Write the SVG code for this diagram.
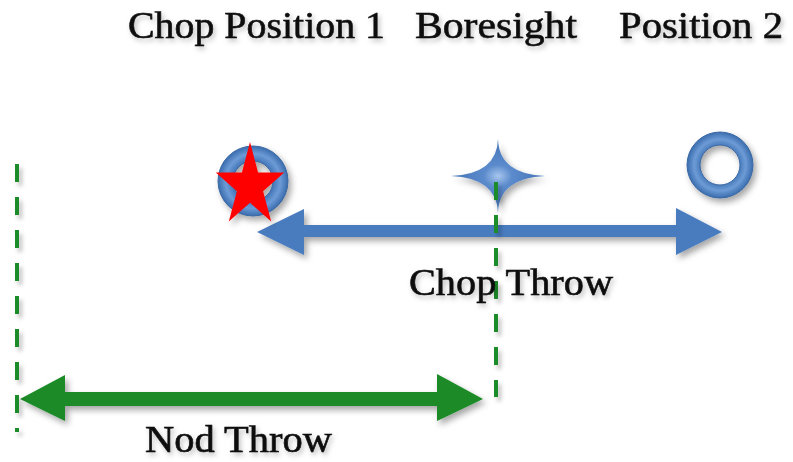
<svg xmlns="http://www.w3.org/2000/svg" width="793" height="462" viewBox="0 0 793 462">
  <defs>
    <filter id="sh" x="-30%" y="-30%" width="160%" height="160%">
      <feDropShadow dx="3" dy="4" stdDeviation="3" flood-color="#000" flood-opacity="0.35"/>
    </filter>
    <filter id="lsh" filterUnits="userSpaceOnUse" x="0" y="0" width="793" height="462">
      <feDropShadow dx="3" dy="4" stdDeviation="2" flood-color="#000" flood-opacity="0.25"/>
    </filter>
    <filter id="tsh" x="-10%" y="-30%" width="120%" height="160%">
      <feDropShadow dx="2" dy="3" stdDeviation="2.5" flood-color="#000" flood-opacity="0.25"/>
    </filter>
    <radialGradient id="ringg" cx="50%" cy="50%" r="50%">
      <stop offset="0.55" stop-color="#3f72b4"/>
      <stop offset="0.78" stop-color="#6d9bd6"/>
      <stop offset="1" stop-color="#3a6cad"/>
    </radialGradient>
    <radialGradient id="starg" cx="50%" cy="50%" r="50%">
      <stop offset="0" stop-color="#a8c6ee"/>
      <stop offset="0.3" stop-color="#5b8bcc"/>
      <stop offset="1" stop-color="#4574b6"/>
    </radialGradient>
  </defs>
  <style>
    .lbl { font-family: "Liberation Serif", "DejaVu Serif", serif; font-size: 37px; fill: #111; stroke: #111; stroke-width: 0.6px; }
    .ring { fill: url(#ringg); fill-rule: evenodd; stroke: #3a67a3; stroke-width: 1; }
    .dash { stroke: #1a8c2a; stroke-width: 4; stroke-dasharray: 18 15; fill: none; }
    .blue { fill: #4a7cbf; }
    .green { fill: #1a8a27; }
  </style>

  <g id="labels" filter="url(#tsh)">
    <text class="lbl" x="128" y="38" textLength="257" lengthAdjust="spacingAndGlyphs">Chop Position 1</text>
    <text class="lbl" x="415" y="38" textLength="162" lengthAdjust="spacingAndGlyphs">Boresight</text>
    <text class="lbl" x="619" y="38" textLength="164" lengthAdjust="spacingAndGlyphs">Position 2</text>
  </g>

  <g id="connectors">
    <g id="chop-throw" filter="url(#sh)">
      <polygon class="blue" points="257,232 304,209 304,225 676,225 676,208 722,232 676,255 676,237 304,237 304,255"/>
    </g>
    <g id="nod-throw" filter="url(#sh)">
      <polygon class="green" points="20,399 65,375 65,392 437,392 437,374 483,399 437,421 437,406 65,406 65,421"/>
    </g>
    <line id="nod-left" class="dash" x1="17" y1="164" x2="17" y2="432" filter="url(#lsh)"/>
  </g>

  <g id="chop-position-1" filter="url(#sh)">
    <path class="ring" d="M288,181 A35,35 0 1,1 218,181 A35,35 0 1,1 288,181 Z M273,181 A20,20 0 1,0 233,181 A20,20 0 1,0 273,181 Z"/>
    <polygon fill="#ff0000" points="250,142 258.1,172.4 284.2,172.4 263.1,191.2 271.2,221.6 250,202.8 228.8,221.6 236.9,191.2 215.8,172.4 241.9,172.4"/>
  </g>

  <g id="boresight" filter="url(#sh)">
    <path fill="url(#starg)" d="M498,139 Q499,174 545,176 Q499,178 498,213 Q497,178 451,176 Q497,174 498,139 Z"/>
  </g>

  <line id="nod-right" class="dash" x1="496" y1="182" x2="496" y2="397" filter="url(#lsh)"/>

  <g id="position-2" filter="url(#sh)">
    <path class="ring" d="M753,165 A33,33 0 1,1 687,165 A33,33 0 1,1 753,165 Z M740,165 A20,20 0 1,0 700,165 A20,20 0 1,0 740,165 Z"/>
  </g>

  <g id="throw-labels" filter="url(#tsh)">
    <text class="lbl" x="409" y="295" textLength="204" lengthAdjust="spacingAndGlyphs">Chop Throw</text>
    <text class="lbl" x="145" y="452" textLength="187" lengthAdjust="spacingAndGlyphs">Nod Throw</text>
  </g>
</svg>
